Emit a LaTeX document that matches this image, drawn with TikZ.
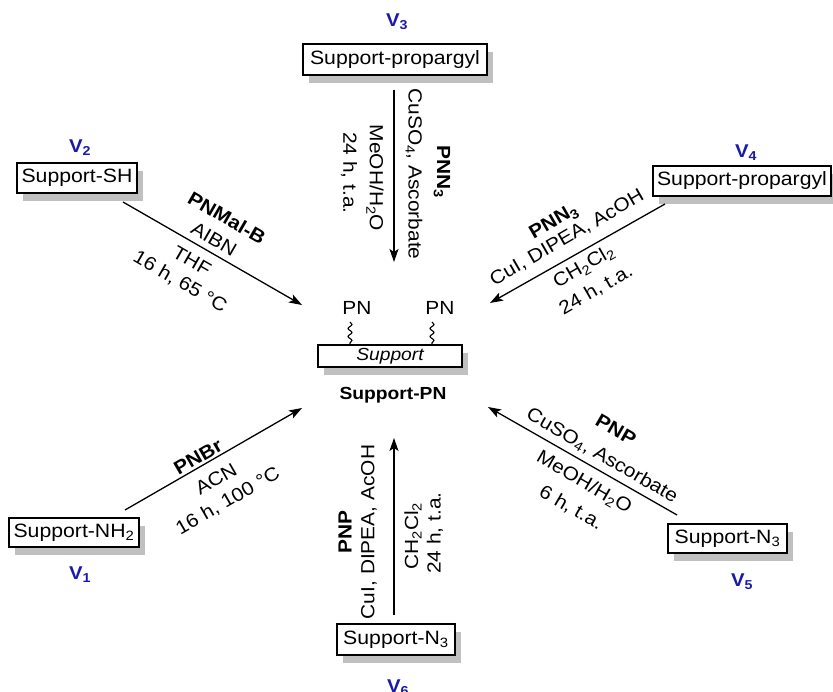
\documentclass[tikz,border=0pt]{standalone}
\usepackage{fontspec}
\setmainfont{Liberation Sans}[FakeStretch=1.1]
\usetikzlibrary{arrows.meta,shadows,decorations.pathmorphing}
\definecolor{vblue}{RGB}{26,26,170}
\definecolor{shade}{RGB}{192,192,192}
\begin{document}
\begin{tikzpicture}[x=1pt,y=-1pt,
  box/.style={draw, line width=1.2pt, fill=white, inner sep=0pt, minimum height=30pt,
    font=\fontsize{19.3}{23}\selectfont,
    drop shadow={fill=shade, opacity=1, shadow xshift=6pt, shadow yshift=-8pt}},
  vlab/.style={text=vblue, font=\bfseries\fontsize{18.5}{22}\selectfont, inner sep=0pt},
  lbl/.style={font=\fontsize{19}{23}\selectfont, inner sep=0pt},
  blbl/.style={font=\bfseries\fontsize{19}{23}\selectfont, inner sep=0pt},
  rxn/.style={line width=1.3pt, -{Stealth[length=13pt,width=9pt,inset=3pt]}},
  squig/.style={line width=1.1pt, decorate, decoration={snake, amplitude=2pt, segment length=8pt}}
]
\useasboundingbox (0,0) rectangle (833,692);

% central product
\node[box, minimum width=144pt, minimum height=22pt, font=\itshape\fontsize{17.5}{21}\selectfont] (sup) at (390,356) {Support};
\node[lbl] (pn1) at (357,308) {PN};
\node[lbl] (pn2) at (440,308) {PN};
\coordinate (q1a) at (350,322); \coordinate (q1b) at (350,345);
\coordinate (q2a) at (432,322); \coordinate (q2b) at (432,345);
\draw[squig] (q1a) -- (q1b);
\draw[squig] (q2a) -- (q2b);
\node[font=\bfseries\fontsize{17.5}{21}\selectfont, inner sep=0pt] (supPN) at (393,395) {Support-PN};

% starting materials
\node[box, minimum width=184pt, minimum height=31pt] (b3) at (395,59.5) {Support-propargyl};
\node[vlab] (v3) at (397,22) {V\textsubscript{3}};
\node[box, minimum width=120pt] (b2) at (77,178) {Support-SH};
\node[vlab] (v2) at (80,148) {V\textsubscript{2}};
\node[box, minimum width=178pt] (b4) at (742,181) {Support-propargyl};
\node[vlab] (v4) at (746,153) {V\textsubscript{4}};
\node[box, minimum width=130pt, minimum height=29pt] (b1) at (74,532.5) {Support-NH\textsubscript{2}};
\node[vlab] (v1) at (80,575) {V\textsubscript{1}};
\node[box, minimum width=119pt, minimum height=29pt] (b5) at (727.5,538.5) {Support-N\textsubscript{3}};
\node[vlab] (v5) at (742,582) {V\textsubscript{5}};
\node[box, minimum width=118pt, minimum height=31pt] (b6) at (396,639.5) {Support-N\textsubscript{3}};
\node[vlab] (v6) at (398,688) {V\textsubscript{6}};

% arrow ends
\coordinate (s3) at (394,90);  \coordinate (t3) at (394,262);
\coordinate (s6) at (394,615); \coordinate (t6) at (394,438);
\coordinate (s2) at (123,202); \coordinate (t2) at (302,305);
\coordinate (s4) at (665,204); \coordinate (t4) at (490,303);
\coordinate (s1) at (125,510); \coordinate (t1) at (302,408);
\coordinate (s5) at (677,515); \coordinate (t5) at (488,407);
\draw[rxn] (s3) -- (t3);
\draw[rxn] (s6) -- (t6);
\draw[rxn] (s2) -- (t2);
\draw[rxn] (s4) -- (t4);
\draw[rxn] (s1) -- (t1);
\draw[rxn] (s5) -- (t5);

% V3 conditions
\node[blbl, rotate=-90] (l3a) at (442,172) {PNN\textsubscript{3}};
\node[lbl, rotate=-90] (l3b) at (414,174) {CuSO\textsubscript{4}, Ascorbate};
\node[lbl, rotate=-90] (l3c) at (375,178) {MeOH/H\textsubscript{2}O};
\node[lbl, rotate=-90] (l3d) at (349,173) {24 h, t.a.};

% V2 conditions
\node[blbl, rotate=-30] (l2a) at (227,218) {PNMal-B};
\node[lbl, rotate=-30] (l2b) at (214,239) {AIBN};
\node[lbl, rotate=-30] (l2c) at (192,261) {THF};
\node[lbl, rotate=-30] (l2d) at (180,282) {16 h, 65 °C};

% V4 conditions
\node[blbl, rotate=30] (l4a) at (554,222) {PNN\textsubscript{3}};
\node[lbl, rotate=30] (l4b) at (567,238) {CuI, DIPEA, AcOH};
\node[lbl, rotate=30] (l4c) at (584,267) {CH\textsubscript{2}Cl\textsubscript{2}};
\node[lbl, rotate=30] (l4d) at (596,290) {24 h, t.a.};

% V1 conditions
\node[blbl, rotate=30] (l1a) at (198,457) {PNBr};
\node[lbl, rotate=30] (l1b) at (216,479) {ACN};
\node[lbl, rotate=30] (l1c) at (228,501) {16 h, 100 °C};

% V5 conditions
\node[blbl, rotate=-30] (l5a) at (616,430) {PNP};
\node[lbl, rotate=-30] (l5b) at (602,456) {CuSO\textsubscript{4}, Ascorbate};
\node[lbl, rotate=-30] (l5c) at (584,483) {MeOH/H\textsubscript{2}O};
\node[lbl, rotate=-30] (l5d) at (571,508) {6 h, t.a.};

% V6 conditions
\node[blbl, rotate=90] (l6a) at (345,532) {PNP};
\node[lbl, rotate=90] (l6b) at (369,532) {CuI, DIPEA, AcOH};
\node[lbl, rotate=90] (l6c) at (413,536) {CH\textsubscript{2}Cl\textsubscript{2}};
\node[lbl, rotate=90] (l6d) at (435,533) {24 h, t.a.};
\end{tikzpicture}
\end{document}
